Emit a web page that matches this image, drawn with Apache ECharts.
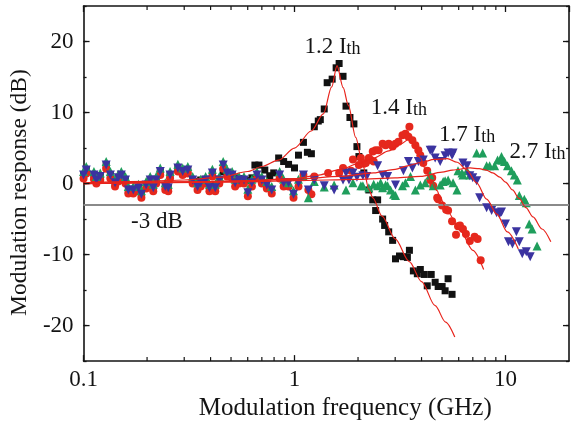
<!DOCTYPE html>
<html><head><meta charset="utf-8">
<script src="https://cdn.jsdelivr.net/npm/echarts@6/dist/echarts.min.js"></script>
<style>html,body{margin:0;padding:0;background:#fff}#c{width:574px;height:426px}</style>
</head><body><div id="c"></div>
<script>
// ---- data (frequency in GHz, response in dB) ----
const lowFreq = [0.100,0.103,0.112,0.115,0.120,0.128,0.134,0.141,0.146,0.151,0.158,0.163,0.172,0.182,0.188,0.198,0.207,0.214,0.221,0.231,0.244,0.252,0.257,0.280,0.295,0.312,0.329,0.347,0.359,0.379,0.395,0.408,0.421,0.440,0.459,0.479,0.506,0.523,0.546,0.576,0.601,0.628,0.663,0.700,0.739,0.780,0.850,0.888,0.937,0.989,1.044,1.102,1.163,1.241];
const blackLow = [1.2,1.9,1.2,0.5,1.0,2.6,1.2,0.1,0.8,1.2,0.5,-0.9,-0.9,-0.6,-1.5,-0.2,0.5,-0.6,0.5,1.7,-0.4,-0.6,1.2,2.2,1.7,1.9,0.5,0.3,0.5,0.6,-0.4,1.5,-0.3,0.6,1.7,1.5,1.2,0.8,0.7,0.5,0.4,0.8];
const redLow = [0.7,1.4,0.6,0.0,0.5,2.1,0.7,-0.4,0.3,0.7,0.0,-1.4,-1.4,-1.1,-2.0,-0.7,0.0,-1.1,0.0,1.2,-0.9,-1.1,0.7,1.7,1.2,1.4,0.0,-0.9,-0.4,0.0,-1.1,1.0,-1.1,0.0,2.1,1.0,0.7,-0.4,0.0,0.0,-1.8,-0.4,0.7,0.0,-0.7,-1.4,0.7,-0.4,-0.4,-2.0,-0.4,1.2,-0.9,1.0];
const greenLow = [1.7,2.4,1.7,1.0,1.5,3.1,1.7,0.6,1.3,1.7,1.0,-0.4,-0.4,-0.1,-1.0,0.3,1.0,-0.1,1.0,2.2,0.1,-0.1,1.7,2.7,2.2,2.4,1.0,0.1,0.6,1.0,-0.1,2.0,-0.1,1.0,3.1,2.0,1.7,0.6,1.0,1.0,-0.8,0.6,1.7,1.0,0.3,-0.4,1.7,0.6,0.1,-1.0,0.6,1.0,-2.0,0.3];
const blueLow = [1.2,1.9,1.2,0.5,1.0,2.6,1.2,0.1,0.8,1.2,0.5,-0.9,-0.9,-0.6,-1.5,-0.2,0.5,-0.6,0.5,1.7,-0.4,-0.6,1.2,2.2,1.7,1.9,0.5,-0.4,0.1,0.5,-0.6,1.5,-0.6,0.5,2.6,1.5,1.2,0.1,0.5,0.5,-1.3,0.1,1.2,0.5,-0.2,-0.9,1.2,0.1,0.1,-1.5,0.1,1.2,-0.9,0.5];

const blackHigh = [[0.649,2.6],[0.678,2.6],[0.723,1.9],[0.763,1.1],[0.797,1.5],[0.841,3.6],[0.888,3.1],[0.937,2.7],[1.0,2.2],[1.044,4.0],[1.102,5.8],[1.151,4.4],[1.202,4.2],[1.241,8.0],[1.296,8.8],[1.325,9.0],[1.383,10.5],[1.428,14.2],[1.508,14.7],[1.575,16.3],[1.627,16.9],[1.698,15.1],[1.754,10.9],[1.831,9.3],[1.912,8.4],[1.976,5.2],[2.019,3.8],[2.130,1.5],[2.250,-0.9],[2.348,-2.3],[2.424,-3.8],[2.477,-2.3],[2.616,-5.0],[2.674,-5.9],[2.795,-6.8],[2.918,-8.0],[3.011,-10.6],[3.145,-10.2],[3.283,-10.3],[3.428,-10.4],[3.504,-9.4],[3.659,-12.3],[3.820,-12.7],[3.947,-12.1],[4.121,-12.8],[4.257,-14.4],[4.445,-12.8],[4.641,-13.9],[4.796,-14.5],[5.008,-14.5],[5.174,-15.1],[5.345,-13.4],[5.581,-15.6]];
const redHigh = [[1.202,-1.5],[1.443,1.5],[1.627,1.5],[1.698,2.2],[1.852,1.8],[1.892,3.4],[2.019,2.6],[2.063,3.6],[2.130,2.8],[2.177,2.9],[2.250,3.6],[2.298,3.3],[2.348,4.5],[2.373,3.1],[2.424,4.7],[2.503,4.7],[2.616,5.6],[2.703,5.4],[2.795,5.6],[2.918,5.2],[3.011,5.6],[3.110,5.9],[3.248,6.8],[3.356,7.0],[3.467,6.6],[3.504,8.0],[3.620,6.1],[3.740,5.4],[3.863,4.7],[3.947,4.0],[4.077,2.9],[4.257,1.8],[4.397,0.5],[4.494,0.8],[4.543,-0.3],[4.744,-2.0],[4.796,-2.2],[5.008,-3.1],[5.231,-3.7],[5.345,-3.8],[5.581,-5.3],[5.827,-7.2],[5.955,-6.0],[6.085,-5.9],[6.285,-6.4],[6.493,-7.1],[6.776,-8.1],[7.137,-7.5],[7.378,-7.8],[7.626,-10.8]];
const greenHigh = [[1.383,-0.5],[1.541,-0.2],[1.754,-0.9],[1.892,0.1],[2.063,-0.3],[2.109,-0.3],[2.250,-0.6],[2.373,-0.1],[2.477,-0.3],[2.559,0.1],[2.616,-0.6],[2.703,-0.2],[2.763,-0.3],[2.853,-0.9],[2.947,-1.5],[3.011,-1.7],[3.248,-0.3],[3.356,0.1],[3.545,1.0],[3.740,-0.9],[3.947,-0.2],[4.165,0.1],[4.397,1.2],[4.543,-0.3],[4.904,-0.2],[5.066,0.3],[5.174,0.4],[5.345,0.5],[5.643,0.1],[5.888,-0.9],[5.955,1.8],[6.216,1.5],[6.285,1.2],[6.565,1.8],[6.776,1.2],[7.300,4.3],[7.794,4.3],[8.139,2.5],[8.412,2.5],[8.880,2.5],[9.172,3.3],[9.575,3.8],[9.679,3.3],[9.890,3.1],[10.22,2.5],[10.67,1.8],[11.02,1.2],[11.38,0.5],[11.63,-1.7],[12.28,-2.2],[12.54,-2.7],[12.95,-5.7],[13.37,-6.4],[14.11,-8.8]];
const blueHigh = [[1.383,-0.3],[1.541,-0.9],[1.698,0.5],[1.754,1.5],[1.812,0.5],[1.892,1.5],[1.976,0.9],[2.109,1.1],[2.200,1.0],[2.477,2.5],[2.616,1.2],[2.763,1.0],[3.011,-0.2],[3.283,1.8],[3.467,3.1],[3.620,2.2],[3.863,3.1],[4.077,3.3],[4.397,4.7],[4.494,4.7],[4.641,3.6],[4.904,3.1],[5.174,3.9],[5.345,4.3],[5.581,4.0],[5.643,4.3],[6.285,2.9],[6.565,2.5],[6.776,1.1],[6.996,0.8],[7.300,0.4],[7.538,-2.0],[8.139,-3.4],[8.595,-3.8],[9.076,-4.1],[9.373,-4.3],[9.575,-4.0],[9.999,-5.7],[10.33,-8.2],[10.79,-8.5],[11.26,-6.8],[11.63,-8.2],[12.01,-9.9],[12.54,-9.6],[13.09,-10.3]];

// fitted curves
const fit12 = [[0.1,0.1],[0.2,0.3],[0.3,0.5],[0.45,0.9],[0.6,1.7],[0.7,2.4],[0.84,3.3],[1.0,5.0],[1.2,7.4],[1.37,9.8],[1.5,13.6],[1.59,16.6],[1.7,13.5],[1.8,11.0],[1.95,6.5],[2.1,2.8],[2.25,-0.8],[2.35,-2.0],[2.6,-4.6],[3.0,-7.8],[3.5,-11.0],[4.0,-13.8],[4.64,-17.2],[5.2,-19.5],[5.75,-21.6]];
const fit14 = [[0.1,0.0],[0.3,0.2],[0.6,0.4],[1.0,0.7],[1.3,1.2],[1.66,2.0],[2.0,2.8],[2.37,3.6],[2.8,4.6],[3.2,5.6],[3.47,6.2],[3.7,5.4],[3.95,3.6],[4.2,1.8],[4.4,0.6],[4.74,-1.0],[4.9,-2.0],[5.3,-3.9],[6.09,-6.6],[7.0,-9.4],[7.88,-12.1]];
const fit17 = [[0.1,0.0],[0.5,0.3],[1.0,0.6],[1.66,1.0],[2.37,1.5],[3.0,2.0],[3.43,2.5],[4.0,3.0],[4.6,3.4],[5.3,3.5],[5.9,3.0],[6.56,1.9],[7.3,0.1],[8.14,-2.2],[9.1,-4.3],[10.2,-6.8],[11.5,-9.2]];
const fit27 = [[0.1,0.0],[0.5,0.2],[1.0,0.4],[2.0,0.6],[3.0,0.8],[3.95,1.0],[5.0,1.6],[5.6,1.9],[6.8,2.2],[7.5,2.1],[8.1,1.9],[8.7,1.5],[9.4,0.9],[10.0,0.2],[10.8,-0.9],[11.6,-2.1],[12.5,-3.4],[13.5,-4.7],[14.9,-6.4],[16.4,-8.2]];

const xTickLabels = [0.1, 1, 10];
const yTickLabels = [-20, -10, 0, 10, 20];
const xMinorTicks = [0.2,0.3,0.4,0.5,0.6,0.7,0.8,0.9,2,3,4,5,6,7,8,9];
const yMajorTicks = [-20, -10, 0, 10, 20];
const threshold = -3;
const annotations = [
  {pos:[1.114, 19.3], text:'{a|1.2 I}{b|th}'},
  {pos:[2.30, 10.7], text:'{a|1.4 I}{b|th}'},
  {pos:[4.84, 6.8], text:'{a|1.7 I}{b|th}'},
  {pos:[10.44, 4.5], text:'{a|2.7 I}{b|th}'},
  {pos:[0.168, -5.4], text:'{c|-3 dB}'}
];

// ---- chart ----
const FONT = '"Liberation Serif", "Times New Roman", serif';
const INK = '#141414';
const X_MIN = 0.1, X_MAX = 20, Y_MIN = -25, Y_MAX = 25;
const pair = (lo, hi, n) => lowFreq.slice(0, n).map((f, i) => [f, lo[i]]).concat(hi);

const chart = echarts.init(document.getElementById('c'), null, {renderer: 'canvas'});
const baseX = {
  type: 'log', logBase: 10, min: X_MIN, max: X_MAX,
  axisLine: {show: true, onZero: false, lineStyle: {color: INK, width: 1.6}},
  axisTick: {show: true, inside: true, length: 6, lineStyle: {color: INK, width: 1.3}},
  splitLine: {show: false}, minorTick: {show: false}
};
const baseY = {
  type: 'value', min: Y_MIN, max: Y_MAX, interval: 5,
  axisLine: {show: true, onZero: false, lineStyle: {color: INK, width: 1.6}},
  axisTick: {show: true, inside: true, length: 3, lineStyle: {color: INK, width: 1.3}},
  splitLine: {show: false}
};
const scatterBase = (name, data, color, symbol, size, rot, z) => ({
  name, type: 'scatter', data, symbol, symbolSize: size, symbolRotate: rot || 0, z,
  itemStyle: {color, opacity: 1}, emphasis: {disabled: true}, silent: true
});
const fitLine = (name, data) => ({
  name, type: 'line', data, showSymbol: false, symbol: 'none', smooth: 0.3, smoothMonotone: 'x',
  lineStyle: {color: '#e8231b', width: 1.2}, z: 8, silent: true
});

chart.setOption({
  animation: false,
  backgroundColor: '#fff',
  grid: {left: 80, right: 5, top: 6, bottom: 60, containLabel: false},
  xAxis: [
    Object.assign({}, baseX, {
      position: 'bottom',
      name: 'Modulation frequency (GHz)', nameLocation: 'middle', nameGap: 28,
      nameTextStyle: {fontFamily: FONT, fontSize: 25, color: INK, padding: [0, 0, 0, 38]},
      axisLabel: {show: true, fontFamily: FONT, fontSize: 23, color: INK, margin: 7, showMaxLabel: false,
        formatter: v => { const r = Math.round(v * 1000) / 1000; return xTickLabels.indexOf(r) >= 0 ? String(r) : ''; }}
    }),
    Object.assign({}, baseX, {position: 'top', axisLabel: {show: false}})
  ],
  yAxis: [
    Object.assign({}, baseY, {
      position: 'left',
      name: 'Modulation response (dB)', nameLocation: 'middle', nameGap: 50, nameRotate: 90,
      nameTextStyle: {fontFamily: FONT, fontSize: 23.5, color: INK, padding: [0, 18, 0, 0]},
      axisLabel: {show: true, fontFamily: FONT, fontSize: 23, color: INK, margin: 10,
        formatter: v => yTickLabels.indexOf(v) >= 0 ? String(v) : ''}
    }),
    Object.assign({}, baseY, {position: 'right', axisLabel: {show: false}})
  ],
  series: [
    Object.assign(scatterBase('1.2 Ith', pair(blackLow, blackHigh, blackLow.length), '#111111', 'rect', 7, 0, 2), {
      markLine: {silent: true, symbol: ['none', 'none'], label: {show: false},
        lineStyle: {color: '#8a8a8a', width: 2, type: 'solid'},
        data: [{yAxis: threshold}]}
    }),
    scatterBase('1.4 Ith', pair(redLow, redHigh, redLow.length), '#e5281d', 'circle', 8, 0, 3),
    scatterBase('2.7 Ith', pair(greenLow, greenHigh, greenLow.length), '#1f9e5c', 'triangle', 9, 0, 4),
    scatterBase('1.7 Ith', pair(blueLow, blueHigh, blueLow.length), '#3b33a0', 'triangle', 9, 180, 5),
    fitLine('fit 1.2', fit12), fitLine('fit 1.4', fit14), fitLine('fit 1.7', fit17), fitLine('fit 2.7', fit27),
    {
      name: 'labels', type: 'scatter', symbolSize: 0, z: 12, silent: true,
      itemStyle: {opacity: 1, color: INK},
      data: annotations.map(a => ({value: a.pos, text: a.text})),
      label: {show: true, position: 'right', distance: 0, color: INK, opacity: 1,
        textBorderWidth: 0,
        formatter: p => p.data.text,
        rich: {
          a: {fontFamily: FONT, fontSize: 23, color: INK, lineHeight: 23, padding: [0, 0, 9, 0], verticalAlign: 'top'},
          b: {fontFamily: FONT, fontSize: 18, color: INK, lineHeight: 18, verticalAlign: 'bottom'},
          c: {fontFamily: FONT, fontSize: 23, color: INK, lineHeight: 23}
        }}
    },
    {
      name: 'xminor', type: 'custom', z: 15, silent: true, clip: false,
      data: xMinorTicks.map(v => [v, 0]),
      renderItem: (params, api) => {
        const x = api.coord([api.value(0), Y_MIN])[0];
        const yb = api.coord([1, Y_MIN])[1];
        const yt = api.coord([1, Y_MAX])[1];
        const st = {stroke: INK, lineWidth: 1.2};
        return {type: 'group', children: [
          {type: 'line', shape: {x1: x, y1: yb, x2: x, y2: yb - 4}, style: st},
          {type: 'line', shape: {x1: x, y1: yt, x2: x, y2: yt + 4}, style: st}
        ]};
      }
    },
    {
      name: 'ymajor', type: 'custom', z: 15, silent: true, clip: false,
      data: yMajorTicks.map(v => [1, v]),
      renderItem: (params, api) => {
        const y = api.coord([1, api.value(1)])[1];
        const xl = api.coord([X_MIN, 0])[0];
        const xr = api.coord([X_MAX, 0])[0];
        const st = {stroke: INK, lineWidth: 1.3};
        return {type: 'group', children: [
          {type: 'line', shape: {x1: xl, y1: y, x2: xl + 6, y2: y}, style: st},
          {type: 'line', shape: {x1: xr, y1: y, x2: xr - 6, y2: y}, style: st}
        ]};
      }
    }
  ]
});
</script></body></html>
